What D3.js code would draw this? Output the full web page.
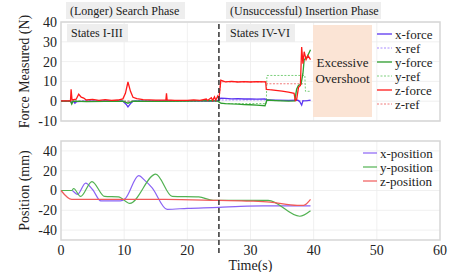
<!DOCTYPE html>
<html>
<head>
<meta charset="utf-8">
<script src="https://cdn.jsdelivr.net/npm/d3@7"></script>
<style>
  body { margin: 0; background: #fff; }
</style>
</head>
<body>
<div id="chart"></div>
<script>
// ---- data ----
var timeTicks = [0, 10, 20, 30, 40, 50, 60];
var forceTicks = [-10, 0, 10, 20, 30, 40];
var posTicks = [-40, -20, 0, 20, 40];
var phaseTime = 25;

// force series [t, N]
var xForce = [[0,0],[1.5,0],[1.7,-0.8],[2,0],[2.2,-1],[2.5,-0.2],[4,0],[8,0.1],[9.8,0],[10.3,-1.5],[10.6,-2.9],[11,-1.2],[11.4,0],[16,0.2],[20,0.2],[24,0.1],[24.8,0.3],
  [25.3,1.5],[26,1.4],[27,1.2],[28,1.3],[29,1.1],[30,1.2],[31,1],[32.3,1.1],[32.6,0.6],[34,0.5],[36,0.4],[37.5,0.5],[37.8,-0.3],[38.1,-2],[38.3,0.2],[39,0.3],[39.5,0.5]];
var xRef = [[0,0],[25,0],[25.3,0.6],[32.5,0.6],[32.6,0.3],[39.5,0.3]];
var yForce = [[0,0],[1.5,0],[1.7,-1.5],[1.9,0],[4,-0.2],[9.8,0],[10.6,-1],[11.4,0],[16,-0.1],[20,0.1],[24,0.3],[24.8,0],
  [25.3,-1],[26,-1.2],[27,-1.4],[28,-1.5],[29,-1.7],[30,-1.8],[31,-2],[32.3,-2.3],[32.6,0.6],[34,0.3],[36,0],[37,0.2],[37.3,6],[37.6,8],[38,8.5],[38.3,14],[38.5,21],[38.9,22],[39.2,24],[39.5,26]];
var yRef = [[0,0],[25,0],[25.3,-1.2],[32.5,-1.2],[32.6,13],[38.6,13],[38.7,5],[39.5,5]];
var zForce = [[0,0.2],[1.5,0.2],[1.6,6],[1.75,0.6],[2.4,1],[2.8,3.5],[3.2,2],[3.6,1.6],[4,0.6],[5,0.9],[6,0.4],[7,0.8],[8,0.4],[9,0.6],[9.8,1.2],[10.2,4],[10.6,9.7],[11,5],[11.4,2],[12,1.3],[13,0.8],[14,0.7],[15,0.5],[16,0.5],
  [16.6,0.6],[16.7,4],[16.8,0.6],[18,0.4],[20,0.4],[21,0.7],[22,0.4],[23,1.1],[23.2,0.4],[23.8,1.8],[24,0.4],[24.3,2.2],[24.5,0.5],[24.8,2.6],[25,1],
  [25.3,10.6],[26,9.8],[27,10],[28,9.7],[29,9.9],[30,9.7],[31,9.9],[32.4,9.8],[32.5,6],[33,5.8],[34,5.5],[35,5.1],[36,4.6],[36.9,4],[37.1,0.3],[37.3,0.8],[37.6,7],[37.9,8],[38.1,27.4],[38.3,19],[38.5,25],[38.8,21],[39.1,23],[39.5,21]];
var zRef = [[0,0],[25,0],[25.3,9.8],[32.5,9.8],[32.6,8.8],[38.6,8.8]];

// position series [t, mm]
var xPos = [[0,0],[1.7,0],[2.6,-4],[3.9,7.5],[5,1],[6.3,-10.5],[9.4,-10.5],[10.2,-8],[12.3,15],[13.3,10],[14.4,3],[16.8,-19],[20,-18],[25,-17],[28.4,-16],[32,-15.5],[39.5,-15.5]];
var yPos = [[0,0],[1.7,0],[2,2],[3.1,-6],[4.9,9],[6.9,-6],[9.1,-6.5],[10.9,-13],[15,16.5],[17.6,-6],[21.8,-6.5],[24.1,-10],[32.8,-10],[37.8,-26],[39.5,-20.5]];
var zPos = [[0,0],[1.7,-9],[16.5,-9],[25,-10],[30,-10.7],[33.1,-11.7],[37.4,-15],[38.4,-15],[39.5,-9]];

var forceSeries = [
  {name: "x-force", data: xForce, color: "#5b35f0", dash: null, w: 1.3},
  {name: "x-ref",   data: xRef,   color: "#a98cff", dash: "2,1.5", w: 1},
  {name: "y-force", data: yForce, color: "#2e9e2e", dash: null, w: 1.3},
  {name: "y-ref",   data: yRef,   color: "#7ccf7c", dash: "2,1.5", w: 1},
  {name: "z-force", data: zForce, color: "#ff1a1a", dash: null, w: 1.3},
  {name: "z-ref",   data: zRef,   color: "#f07878", dash: "2,1.5", w: 1}
];
var posSeries = [
  {name: "x-position", data: xPos, color: "#8a63f5"},
  {name: "y-position", data: yPos, color: "#52b252"},
  {name: "z-position", data: zPos, color: "#f05a5a"}
];

// ---- layout ----
var width = 471, height = 272;
var left = 61, right = 440;
var top1 = 22, bot1 = 121;
var top2 = 141, bot2 = 240;
var serif = "'Liberation Serif', 'Times New Roman', 'DejaVu Serif', serif";

var svg = d3.select("#chart").append("svg")
  .attr("width", width).attr("height", height)
  .attr("font-family", serif)
  .style("font-family", serif);

var x = d3.scaleLinear().domain([0, 60]).range([left, right]);
var yF = d3.scaleLinear().domain([-10, 40]).range([bot1, top1]);
var yP = d3.scaleLinear().domain([-50, 50]).range([bot2, top2]);

function panel(y, ticks, top, bot, title, showX) {
  var g = svg.append("g");
  // grid
  g.selectAll(".hg").data(ticks).enter().append("line")
    .attr("x1", left).attr("x2", right)
    .attr("y1", d => y(d)).attr("y2", d => y(d))
    .attr("stroke", "#ececec").attr("stroke-width", 0.8);
  g.selectAll(".vg").data(timeTicks.slice(1, -1)).enter().append("line")
    .attr("x1", d => x(d)).attr("x2", d => x(d))
    .attr("y1", top).attr("y2", bot)
    .attr("stroke", "#ececec").attr("stroke-width", 0.8);
  // frame
  g.append("rect").attr("x", left).attr("y", top)
    .attr("width", right - left).attr("height", bot - top)
    .attr("fill", "none").attr("stroke", "#d6d6d6").attr("stroke-width", 1.5);
  // y tick labels
  g.selectAll(".yl").data(ticks).enter().append("text")
    .attr("x", left - 4).attr("y", d => y(d)).attr("dy", "0.35em")
    .attr("text-anchor", "end").attr("font-size", 14).attr("fill", "#222")
    .text(d => d);
  g.append("text")
    .attr("transform", "translate(29," + ((top + bot) / 2) + ") rotate(-90)")
    .attr("text-anchor", "middle").attr("font-size", 14).attr("fill", "#222")
    .text(title);
  if (showX) {
    g.selectAll(".xl").data(timeTicks).enter().append("text")
      .attr("x", d => x(d)).attr("y", bot + 15)
      .attr("text-anchor", "middle").attr("font-size", 14).attr("fill", "#222")
      .text(d => d);
  }
  return g;
}

panel(yF, forceTicks, top1, bot1, "Force Measured (N)", false);
panel(yP, posTicks, top2, bot2, "Position (mm)", true);

svg.append("text").attr("x", x(30)).attr("y", 270)
  .attr("text-anchor", "middle").attr("font-size", 14).attr("fill", "#222").text("Time(s)");

// excessive overshoot box
svg.append("rect").attr("x", 313).attr("y", 25).attr("width", 59).attr("height", 92)
  .attr("fill", "#fbe4d5");
svg.append("text").attr("x", 342.5).attr("y", 67).attr("text-anchor", "middle")
  .attr("font-size", 13).attr("fill", "#222").text("Excessive");
svg.append("text").attr("x", 342.5).attr("y", 83).attr("text-anchor", "middle")
  .attr("font-size", 13).attr("fill", "#222").text("Overshoot");

// phase labels
function tag(tx, ty, w, h, label) {
  svg.append("rect").attr("x", tx).attr("y", ty).attr("width", w).attr("height", h)
    .attr("fill", "#eeeeee");
  svg.append("text").attr("x", tx + 4).attr("y", ty + h / 2).attr("dy", "0.35em")
    .attr("font-size", 12).attr("fill", "#222").text(label);
}
tag(66, 2, 119, 17, "(Longer) Search Phase");
tag(226, 2, 155, 17, "(Unsuccessful) Insertion Phase");
tag(67, 24, 61, 18, "States I-III");
tag(226, 24, 69, 18, "States IV-VI");

// lines
var lineF = d3.line().x(d => x(d[0])).y(d => yF(d[1]));
var lineP = d3.line().x(d => x(d[0])).y(d => yP(d[1])).curve(d3.curveMonotoneX);

var drawOrder = [1, 3, 5, 0, 2, 4];
drawOrder.forEach(function (i) {
  var s = forceSeries[i];
  svg.append("path").datum(s.data)
    .attr("d", lineF).attr("fill", "none")
    .attr("stroke", s.color).attr("stroke-width", s.w)
    .attr("stroke-dasharray", s.dash);
});
posSeries.forEach(function (s) {
  svg.append("path").datum(s.data)
    .attr("d", lineP).attr("fill", "none")
    .attr("stroke", s.color).attr("stroke-width", 1.2);
});

// phase divider
svg.append("line").attr("x1", x(phaseTime)).attr("x2", x(phaseTime))
  .attr("y1", 24).attr("y2", 256)
  .attr("stroke", "#333").attr("stroke-width", 1.5).attr("stroke-dasharray", "5,3");

// legends
var lg1 = svg.append("g");
forceSeries.forEach(function (s, i) {
  var yy = 34 + i * 14;
  lg1.append("line").attr("x1", 377).attr("x2", 392).attr("y1", yy).attr("y2", yy)
    .attr("stroke", s.color).attr("stroke-width", s.dash ? 1 : 1.3)
    .attr("stroke-dasharray", s.dash);
  lg1.append("text").attr("x", 395).attr("y", yy).attr("dy", "0.35em")
    .attr("font-size", 13).attr("fill", "#222").text(s.name);
});
var lg2 = svg.append("g");
posSeries.forEach(function (s, i) {
  var yy = 153 + i * 14;
  lg2.append("line").attr("x1", 363).attr("x2", 377).attr("y1", yy).attr("y2", yy)
    .attr("stroke", s.color).attr("stroke-width", 1.2);
  lg2.append("text").attr("x", 380).attr("y", yy).attr("dy", "0.35em")
    .attr("font-size", 13).attr("fill", "#222").text(s.name);
});
</script>
</body>
</html>
